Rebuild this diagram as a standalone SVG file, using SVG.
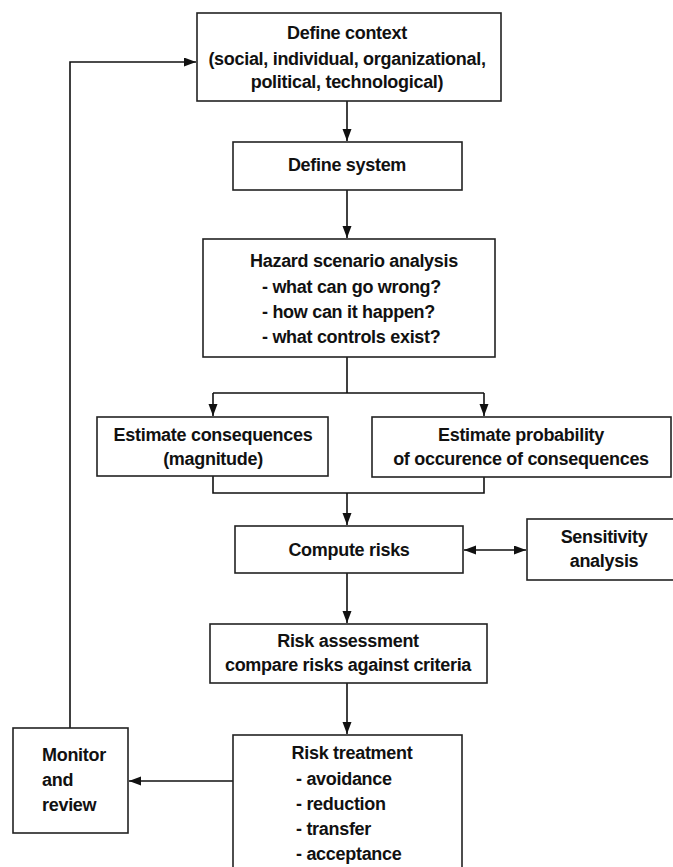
<svg xmlns="http://www.w3.org/2000/svg" width="673" height="867" viewBox="0 0 673 867">
<defs>
<marker id="ah" markerUnits="userSpaceOnUse" markerWidth="13" markerHeight="10" refX="12" refY="4.5" orient="auto-start-reverse">
<path d="M0,0 L12,4.5 L0,9 Z" fill="#111"/>
</marker>
</defs>
<style>
.box{fill:#fff;stroke:#222;stroke-width:1.6}
.t{font-family:"Liberation Sans",Arial,sans-serif;font-weight:bold;font-size:18px;fill:#111;letter-spacing:-0.3px}
.c{text-anchor:middle}
.ln{fill:none;stroke:#111;stroke-width:1.6}
</style>
<rect width="673" height="867" fill="#fff"/>
<g id="connectors">
<path class="ln" d="M347,101 V141" marker-end="url(#ah)"/>
<path class="ln" d="M347,190 V238" marker-end="url(#ah)"/>
<path class="ln" d="M347,357 V393 M213,393 H484"/>
<path class="ln" d="M213,393 V416" marker-end="url(#ah)"/>
<path class="ln" d="M484,393 V416" marker-end="url(#ah)"/>
<path class="ln" d="M213,476 V493 H484 V477"/>
<path class="ln" d="M347,493 V525" marker-end="url(#ah)"/>
<path class="ln" d="M464,550 H526" marker-start="url(#ah)" marker-end="url(#ah)"/>
<path class="ln" d="M347,573 V623" marker-end="url(#ah)"/>
<path class="ln" d="M347,683 V734" marker-end="url(#ah)"/>
<path class="ln" d="M233,781 H129" marker-end="url(#ah)"/>
<path class="ln" d="M70,728 V62 H196" marker-end="url(#ah)"/>
</g>
<g id="define-context">
<rect class="box" x="197" y="13" width="304" height="88"/>
<text class="t c" x="347" y="39">Define context</text>
<text class="t c" x="347" y="65">(social, individual, organizational,</text>
<text class="t c" x="347" y="88">political, technological)</text>
</g>
<g id="define-system">
<rect class="box" x="233" y="142" width="229" height="48"/>
<text class="t c" x="347" y="171">Define system</text>
</g>
<g id="hazard">
<rect class="box" x="203" y="239" width="292" height="118"/>
<text class="t c" x="354" y="267">Hazard scenario analysis</text>
<text class="t" x="262" y="293">- what can go wrong?</text>
<text class="t" x="262" y="318">- how can it happen?</text>
<text class="t" x="262" y="343">- what controls exist?</text>
</g>
<g id="estimate-consequences">
<rect class="box" x="97" y="417" width="231" height="59"/>
<text class="t c" x="213" y="441">Estimate consequences</text>
<text class="t c" x="213" y="465">(magnitude)</text>
</g>
<g id="estimate-probability">
<rect class="box" x="372" y="417" width="299" height="60"/>
<text class="t c" x="521" y="441">Estimate probability</text>
<text class="t c" x="521" y="465">of occurence of consequences</text>
</g>
<g id="compute-risks">
<rect class="box" x="235" y="526" width="228" height="47"/>
<text class="t c" x="349" y="556">Compute risks</text>
</g>
<g id="sensitivity">
<rect class="box" x="527" y="519" width="156" height="61"/>
<text class="t c" x="604" y="543">Sensitivity</text>
<text class="t c" x="604" y="567">analysis</text>
</g>
<g id="risk-assessment">
<rect class="box" x="210" y="624" width="277" height="59"/>
<text class="t c" x="348" y="647">Risk assessment</text>
<text class="t c" x="348" y="671">compare risks against criteria</text>
</g>
<g id="risk-treatment">
<rect class="box" x="233" y="735" width="229" height="160"/>
<text class="t c" x="352" y="759">Risk treatment</text>
<text class="t" x="296" y="785">- avoidance</text>
<text class="t" x="296" y="810">- reduction</text>
<text class="t" x="296" y="835">- transfer</text>
<text class="t" x="296" y="860">- acceptance</text>
</g>
<g id="monitor">
<rect class="box" x="13" y="728" width="115" height="105"/>
<text class="t" x="42" y="761">Monitor</text>
<text class="t" x="42" y="786">and</text>
<text class="t" x="42" y="811">review</text>
</g>
</svg>
